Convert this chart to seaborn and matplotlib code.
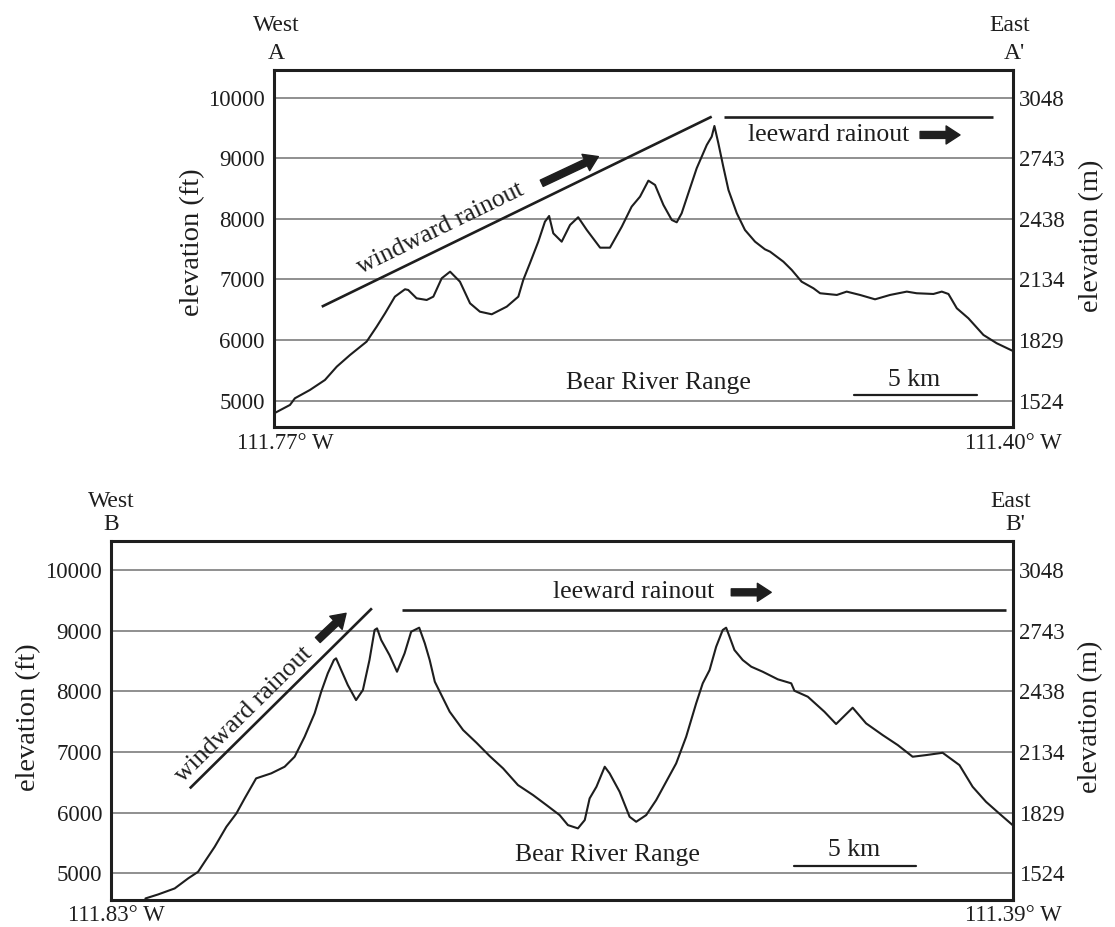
import matplotlib
matplotlib.use("Agg")
import matplotlib.pyplot as plt
import numpy as np
import seaborn as sns

# ---------------- data ----------------
# Profile A - A' (distance along profile in km, elevation in ft)
dist_a_km = [0.00, 0.65, 0.85, 1.46, 2.07, 2.55, 3.09, 3.76, 4.17, 4.51,
             4.91, 5.32, 5.45, 5.79, 6.20, 6.47, 6.81, 7.15, 7.55, 7.96,
             8.36, 8.84, 9.45, 9.92, 10.12, 10.39, 10.73, 11.00, 11.17, 11.34,
             11.68, 12.02, 12.35, 12.70, 13.24, 13.64, 14.12, 14.52, 14.86, 15.20,
             15.47, 15.81, 16.15, 16.35, 16.55, 16.82, 17.16, 17.57, 17.77, 17.88,
             18.04, 18.24, 18.45, 18.79, 19.12, 19.53, 19.93, 20.14, 20.68, 21.02,
             21.42, 21.90, 22.17, 22.85, 23.25, 23.79, 24.40, 25.01, 25.69, 26.09,
             26.77, 27.11, 27.38, 27.72, 28.19, 28.80, 29.34, 30.00]
elev_a_ft = [4790, 4930, 5040, 5177, 5342, 5562, 5755, 5974, 6222, 6442,
             6717, 6839, 6827, 6690, 6662, 6717, 7020, 7129, 6964, 6607,
             6469, 6426, 6552, 6717, 6992, 7267, 7624, 7954, 8048, 7762,
             7624, 7900, 8027, 7817, 7525, 7525, 7872, 8202, 8367, 8631,
             8560, 8230, 7982, 7944, 8092, 8422, 8835, 9220, 9357, 9533,
             9248, 8862, 8477, 8092, 7817, 7624, 7498, 7459, 7294, 7157,
             6964, 6855, 6773, 6745, 6800, 6745, 6673, 6745, 6800, 6773,
             6761, 6800, 6761, 6525, 6360, 6085, 5948, 5820]

# Profile B - B'
dist_b_km = [1.41, 1.93, 2.61, 3.16, 3.57, 3.84, 4.25, 4.73, 5.14, 5.48,
             5.95, 6.57, 7.12, 7.53, 7.94, 8.35, 8.62, 8.89, 9.14, 9.23,
             9.44, 9.71, 10.05, 10.33, 10.60, 10.81, 10.91, 11.08, 11.42, 11.73,
             12.04, 12.31, 12.64, 12.87, 13.07, 13.28, 13.55, 13.89, 14.44, 14.99,
             15.53, 16.08, 16.69, 17.31, 17.86, 18.40, 18.74, 19.15, 19.43, 19.63,
             19.91, 20.25, 20.45, 20.86, 21.27, 21.54, 21.95, 22.36, 22.77, 23.18,
             23.59, 24.00, 24.27, 24.55, 24.82, 25.09, 25.23, 25.37, 25.57, 25.91,
             26.26, 26.73, 27.35, 27.90, 28.03, 28.58, 29.26, 29.74, 30.42, 30.97,
             31.65, 32.27, 32.88, 33.43, 34.11, 34.80, 35.34, 35.89, 36.43, 36.98]
elev_b_ft = [4586, 4652, 4751, 4916, 5025, 5190, 5437, 5767, 5987, 6235,
             6565, 6648, 6757, 6922, 7251, 7637, 7993, 8297, 8516, 8544,
             8351, 8104, 7856, 8021, 8516, 9011, 9038, 8846, 8598, 8323,
             8626, 8983, 9049, 8791, 8516, 8158, 7939, 7664, 7362, 7152,
             6933, 6730, 6455, 6290, 6125, 5960, 5795, 5741, 5878, 6235,
             6427, 6757, 6648, 6345, 5932, 5850, 5960, 6207, 6510, 6812,
             7251, 7802, 8132, 8350, 8735, 9011, 9049, 8900, 8681, 8516,
             8406, 8323, 8198, 8132, 8010, 7911, 7664, 7461, 7730, 7472,
             7279, 7114, 6922, 6949, 6987, 6784, 6427, 6179, 5987, 5795]

ft_ticks = [5000, 6000, 7000, 8000, 9000, 10000]
m_tick_labels = ["1524", "1829", "2134", "2438", "2743", "3048"]
FT_TO_M = 0.3048

panel_a_labels = {"west": "West", "left": "A", "east": "East", "right": "A'",
                  "lon_left": "111.77° W", "lon_right": "111.40° W"}
panel_b_labels = {"west": "West", "left": "B", "east": "East", "right": "B'",
                  "lon_left": "111.83° W", "lon_right": "111.39° W"}

# ---------------- style ----------------
sns.set_theme(style="white")
plt.rcParams["font.family"] = ["Liberation Serif", "DejaVu Serif"]
plt.rcParams["mathtext.fontset"] = "stix"

INK = "#1e1e1e"
GRID = "#7d7d7d"
TICK_FS = 16.5
LABEL_FS = 20.5
ANN_FS = 18.5
HEAD_FS = 17

fig = plt.figure(figsize=(11.15, 9.27), dpi=100)
ax_a = fig.add_axes([0.2457, 0.5397, 0.6628, 0.3848])
ax_b = fig.add_axes([0.0996, 0.0291, 0.8090, 0.3873])


def draw_panel(ax, dist, elev, xmax, ylim, labels, lbl_pos):
    sns.lineplot(x=dist, y=elev, ax=ax, color=INK, lw=1.5, sort=False,
                 estimator=None)
    ax.set_xlim(0, xmax)
    ax.set_ylim(*ylim)
    ax.set_xticks([])
    ax.set_yticks(ft_ticks)
    ax.set_yticklabels([str(t) for t in ft_ticks])
    ax.tick_params(axis="y", length=0, pad=6.5, labelsize=TICK_FS,
                   labelcolor=INK)
    for y in ft_ticks:
        ax.axhline(y, color=GRID, lw=1.2, zorder=0)
    for s in ax.spines.values():
        s.set_visible(True)
        s.set_color(INK)
        s.set_linewidth(2.2)
    ax.set_xlabel("")
    ax.set_ylabel("")

    ax2 = ax.twinx()
    ax2.set_ylim(ylim[0] * FT_TO_M, ylim[1] * FT_TO_M)
    ax2.set_yticks([t * FT_TO_M for t in ft_ticks])
    ax2.set_yticklabels(m_tick_labels)
    ax2.tick_params(axis="y", length=0, pad=4, labelsize=TICK_FS,
                    labelcolor=INK)
    ax2.grid(False)
    for s in ax2.spines.values():
        s.set_visible(False)

    ax.text(lbl_pos["yl_x"], lbl_pos["yl_y"], "elevation (ft)",
            transform=ax.transAxes, rotation=90, ha="center", va="center",
            fontsize=LABEL_FS, color=INK)
    ax.text(lbl_pos["yr_x"], lbl_pos["yr_y"], "elevation (m)",
            transform=ax.transAxes, rotation=90, ha="center", va="center",
            fontsize=LABEL_FS, color=INK)

    ax.text(lbl_pos["w_x"], lbl_pos["west_y"], labels["west"],
            transform=ax.transAxes, ha="center", va="center",
            fontsize=HEAD_FS, color=INK)
    ax.text(lbl_pos["w_x"], lbl_pos["letter_y"], labels["left"],
            transform=ax.transAxes, ha="center", va="center",
            fontsize=HEAD_FS, color=INK)
    ax.text(lbl_pos["e_x"], lbl_pos["west_y"], labels["east"],
            transform=ax.transAxes, ha="center", va="center",
            fontsize=HEAD_FS, color=INK)
    ax.text(lbl_pos["e_x"] + 0.006, lbl_pos["letter_y"], labels["right"],
            transform=ax.transAxes, ha="center", va="center",
            fontsize=HEAD_FS, color=INK)
    ax.text(lbl_pos["lonl_x"], lbl_pos["lon_y"], labels["lon_left"],
            transform=ax.transAxes, ha="center", va="center",
            fontsize=TICK_FS, color=INK)
    ax.text(1.0, lbl_pos["lon_y"], labels["lon_right"],
            transform=ax.transAxes, ha="center", va="center",
            fontsize=TICK_FS, color=INK)
    return ax2


def fat_arrow(ax, tail, head):
    ax.annotate("", xy=head, xytext=tail,
                arrowprops=dict(arrowstyle="simple,head_width=1.3,head_length=1.0,tail_width=0.5",
                                color=INK, shrinkA=0, shrinkB=0,
                                mutation_scale=10))


# ---- Panel A ----
draw_panel(ax_a, dist_a_km, elev_a_ft, 30.0, (4571, 10457), panel_a_labels,
           dict(yl_x=-0.110, yl_y=0.516, yr_x=1.106, yr_y=0.535,
                w_x=0.003, e_x=0.996, west_y=1.126, letter_y=1.045,
                lonl_x=0.016, lon_y=-0.046))
ax_a.plot([1.94, 17.77], [6551, 9687], color=INK, lw=1.9, solid_capstyle="butt")
ax_a.plot([18.28, 29.2], [9687, 9687], color=INK, lw=1.9, solid_capstyle="butt")
fat_arrow(ax_a, (10.87, 8588), (13.17, 9028))
fat_arrow(ax_a, (26.23, 9385), (27.85, 9385))
ax_a.text(6.74, 7840, "windward rainout", rotation=26, ha="center", va="center",
          rotation_mode="anchor", fontsize=ANN_FS, color=INK)
ax_a.text(19.26, 9385, "leeward rainout", ha="left", va="center",
          fontsize=ANN_FS, color=INK)
ax_a.text(15.6, 5288, "Bear River Range", ha="center", va="center",
          fontsize=ANN_FS, color=INK)
ax_a.plot([23.55, 28.55], [5094, 5094], color=INK, lw=1.6)
ax_a.text(25.98, 5342, "5 km", ha="center", va="center",
          fontsize=ANN_FS, color=INK)

# ---- Panel B ----
draw_panel(ax_b, dist_b_km, elev_b_ft, 37.0, (4560, 10478), panel_b_labels,
           dict(yl_x=-0.0915, yl_y=0.51, yr_x=1.086, yr_y=0.51,
                w_x=0.0, e_x=0.997, west_y=1.109, letter_y=1.045,
                lonl_x=0.006, lon_y=-0.042))
ax_b.plot([3.23, 10.70], [6400, 9368], color=INK, lw=1.9, solid_capstyle="butt")
ax_b.plot([11.95, 36.71], [9340, 9340], color=INK, lw=1.9, solid_capstyle="butt")
fat_arrow(ax_b, (8.48, 8846), (9.64, 9286))
fat_arrow(ax_b, (25.44, 9632), (27.08, 9632))
ax_b.text(5.44, 7609, "windward rainout", rotation=44.6, ha="center", va="center",
          rotation_mode="anchor", fontsize=ANN_FS, color=INK)
ax_b.text(18.13, 9632, "leeward rainout", ha="left", va="center",
          fontsize=ANN_FS, color=INK)
ax_b.text(20.35, 5300, "Bear River Range", ha="center", va="center",
          fontsize=ANN_FS, color=INK)
ax_b.plot([28.03, 33.03], [5119, 5119], color=INK, lw=1.6)
ax_b.text(30.49, 5383, "5 km", ha="center", va="center",
          fontsize=ANN_FS, color=INK)

fig.savefig("out.png", dpi=100, facecolor="white")
